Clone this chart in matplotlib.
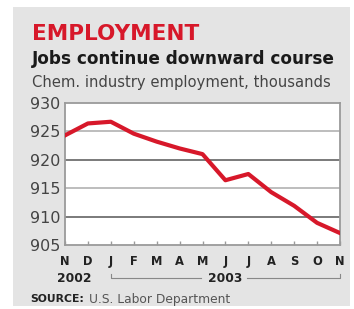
import matplotlib.pyplot as plt
from matplotlib.patches import Rectangle
from matplotlib.transforms import blended_transform_factory

# data: chemical industry employment, thousands (Nov 2002 - Nov 2003)
months = ["N", "D", "J", "F", "M", "A", "M", "J", "J", "A", "S", "O", "N"]
jobs = [924.3, 926.4, 926.7, 924.6, 923.2, 922.0, 921.0,
        916.4, 917.5, 914.3, 911.9, 908.9, 907.1]
yticks = [905, 910, 915, 920, 925, 930]

W, H = 354, 309
fig = plt.figure(figsize=(W / 100, H / 100), dpi=100)
fig.patch.set_facecolor("white")

def px(x, y):
    return x / W, 1 - y / H

# gray panel
fig.patches.append(Rectangle(px(13, 306), (350 - 13) / W, (306 - 7) / H,
                             transform=fig.transFigure, facecolor="#e4e4e4",
                             edgecolor="none", zorder=-5))

# headings
fig.text(*px(32, 34), "EMPLOYMENT", color="#d7182a", fontsize=15.5,
         weight="bold", va="center", ha="left")
fig.text(*px(32, 59), "Jobs continue downward course", color="#1a1a1a",
         fontsize=12.2, weight="bold", va="center", ha="left")
fig.text(*px(32, 83), "Chem. industry employment, thousands", color="#444444",
         fontsize=10.6, va="center", ha="left")

# plot area
l, r, t, b = 65, 340, 103, 245
ax = fig.add_axes([l / W, 1 - b / H, (r - l) / W, (b - t) / H])
ax.set_facecolor("white")
ax.set_xlim(0, 12)
ax.set_ylim(905, 930)

for v in yticks[1:-1]:
    c = "#707070" if v % 10 == 0 else "#b8b8b8"
    ax.axhline(v, color=c, lw=1.3, zorder=1)

ax.plot(range(len(jobs)), jobs, color="#d7182a", lw=3, zorder=3,
        solid_joinstyle="round")

for s in ax.spines.values():
    s.set_color("#9a9a9a")
    s.set_linewidth(1.3)

ax.set_yticks(yticks, [str(v) for v in yticks])
ax.tick_params(axis="y", length=0, pad=3.5, labelsize=11.5, labelcolor="#444444")
ax.set_xticks(range(len(months)), months)
ax.tick_params(axis="x", direction="in", length=3, width=1, color="#9a9a9a",
               pad=7, labelsize=8.3)
for lab in ax.get_xticklabels():
    lab.set_fontweight("bold")
    lab.set_color("#222222")

# year labels
tr = blended_transform_factory(ax.transData, fig.transFigure)
yy = px(0, 278)[1]
fig.text(-0.35, yy, "2002", transform=tr, fontsize=8.8,
         weight="bold", color="#222222", ha="left", va="center")
fig.text(7, yy, "2003", transform=tr, fontsize=8.8,
         weight="bold", color="#222222", ha="center", va="center")
yb = px(0, 278)[1]
ytk = px(0, 274)[1]
ax.plot([2, 2, 5.95], [ytk, yb, yb], transform=tr, color="#888888", lw=0.8,
        clip_on=False)
ax.plot([7.95, 12, 12], [yb, yb, ytk], transform=tr, color="#888888", lw=0.8,
        clip_on=False)

# source
fig.text(*px(30, 299), "SOURCE:", fontsize=7.8, weight="bold",
         color="#222222", ha="left", va="center")
fig.text(*px(89, 299), "U.S. Labor Department", fontsize=8.8,
         color="#555555", ha="left", va="center")

fig.savefig("out.png", dpi=100)
